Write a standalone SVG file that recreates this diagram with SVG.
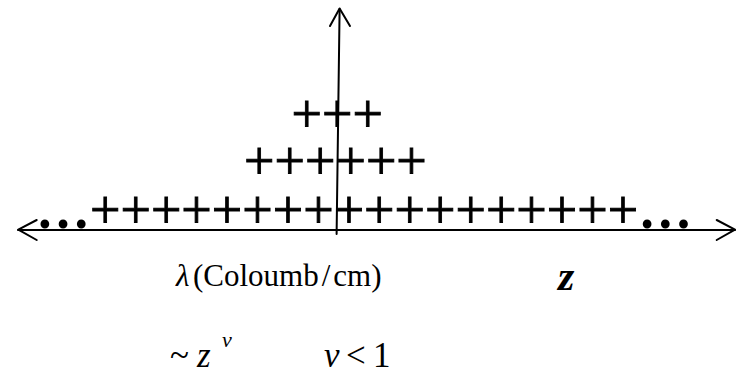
<svg xmlns="http://www.w3.org/2000/svg" width="748" height="375" viewBox="0 0 748 375">
<style>
.ser{font-family:"Liberation Serif","Times New Roman",serif;fill:#000}
.pl{font-size:54px;stroke:#000;stroke-width:0.9}
.ax{stroke:#000;stroke-width:2;fill:none;stroke-linecap:round;stroke-linejoin:round}
.lbl{font-size:35px}
</style>
<rect width="748" height="375" fill="#fff"/>
<g id="connectors">
<line class="ax" x1="18" y1="230" x2="735" y2="230"/>
<polyline class="ax" points="36.7,220 18.3,229.7 36.7,240"/>
<polyline class="ax" points="716.7,220 735,229.7 716.7,240"/>
<line class="ax" x1="336.6" y1="234" x2="339.6" y2="9"/>
<polyline class="ax" points="330,26 339.6,8.5 350,26"/>
</g>
<g id="charges-top"><text class="ser pl" x="291.5" y="131.8">+++</text></g>
<g id="charges-middle"><text class="ser pl" x="244.1" y="179.2">++++++</text></g>
<g id="charges-bottom"><text class="ser pl" x="36" y="227.5"><tspan font-weight="bold" stroke-width="0">…</tspan>++++++++++++++++++<tspan font-weight="bold" stroke-width="0">…</tspan></text></g>
<g id="label-lambda"><text class="ser" y="286" font-size="31"><tspan x="176" font-style="italic">λ</tspan><tspan x="193">(Coloumb</tspan><tspan dx="3">/</tspan><tspan dx="3">cm)</tspan></text></g>
<g id="label-z"><text class="ser" font-size="42" font-weight="bold" font-style="italic" x="558" y="290">z</text></g>
<g id="label-scaling"><text class="ser lbl" y="367"><tspan x="170">~</tspan><tspan x="197" font-style="italic">z</tspan><tspan x="222" y="347" font-size="22" font-style="italic">ν</tspan><tspan x="324" y="367" font-style="italic">ν</tspan><tspan x="346">&lt;</tspan><tspan x="373">1</tspan></text></g>
</svg>
